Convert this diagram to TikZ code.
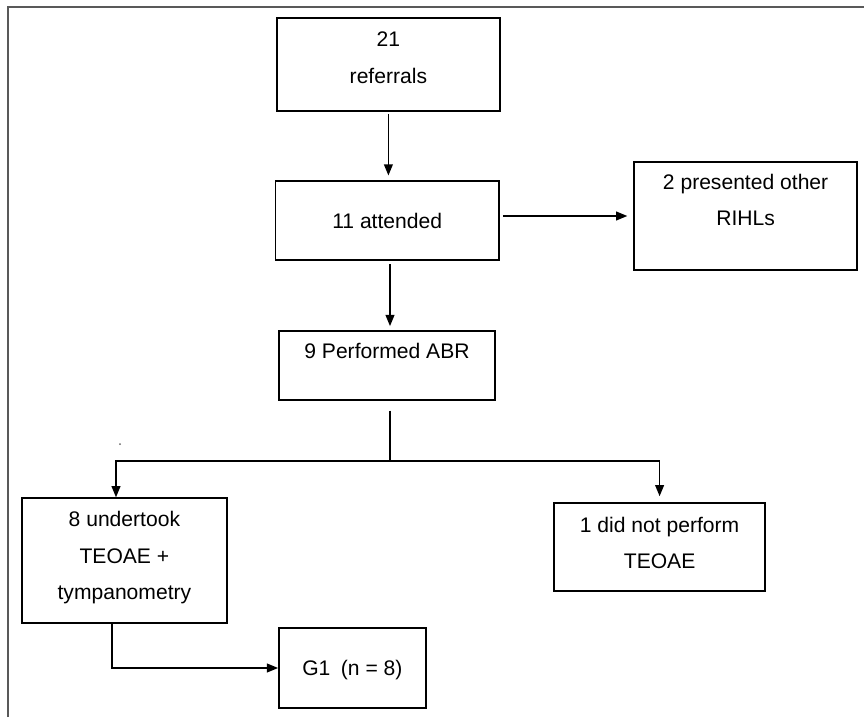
\documentclass[tikz,border=0pt]{standalone}
\usepackage{fontspec}
\setmainfont{Liberation Sans}
\usepackage{tikz}
\usetikzlibrary{arrows.meta}
\tikzset{
	flowbox/.style={draw, line width=1.1pt, align=center, font=\fontsize{15}{26}\selectfont},
	flowline/.style={line width=1.1pt},
	flowarrow/.style={line width=1.1pt, -{Triangle[length=0.28cm, width=0.22cm]}}
}

\begin{document}
\begin{tikzpicture}
		%%%%% START %%%%%
		
		\useasboundingbox (0, 0) rectangle (21.6, 17.925);
		\draw[line width=1pt, color=black!65] (0.2, 0) -- (0.2, 17.75) -- (21.6, 17.75);
		
		\node[flowbox, minimum width=5.575cm, minimum height=2.325cm, text depth=0.35cm] (referrals) at (9.71, 16.31) {21\\referrals};
		\node[flowbox, minimum width=5.59cm, minimum height=1.975cm] (attended) at (9.68, 12.41) {11 attended};
		\node[flowbox, minimum width=5.575cm, minimum height=2.7cm, text depth=0.8cm] (other) at (18.64, 12.525) {2 presented other\\RIHLs};
		\node[flowbox, minimum width=5.4cm, minimum height=1.725cm, text depth=0.75cm] (abr) at (9.675, 8.79) {9 Performed ABR};
		
		\node[flowbox, minimum width=5.125cm, minimum height=3.125cm, text depth=0.26cm] (teoae) at (3.11, 3.91) {8 undertook\\TEOAE +\\tympanometry};
		\node[flowbox, minimum width=5.275cm, minimum height=2.2cm, text depth=0.2cm] (noteoae) at (16.49, 4.25) {1 did not perform\\TEOAE};
		\node[flowbox, minimum width=3.675cm, minimum height=2cm, text depth=0cm] (gone) at (8.81, 1.225) {G1\enspace(n = 8)};
		
		\coordinate (fork) at (9.75, 6.4);
		
		\draw[flowarrow, shorten <=0.05cm, shorten >=0.12cm] (referrals.south) -- (referrals.south |- attended.north);
		\draw[flowarrow, shorten <=0.08cm, shorten >=0.15cm] (other.west -| attended.east) -- (other.west);
		\draw[flowarrow, shorten <=0.08cm, shorten >=0.1cm] (attended.south -| fork) -- (abr.north -| fork);
		
		\draw[flowline, shorten <=0.25cm] (abr.south -| fork) -- (fork);
		\draw[flowarrow] (fork) -| ([xshift=-0.21cm]teoae.north);
		\draw[flowarrow, shorten >=0.15cm] (fork) -| (noteoae.north);
		\draw[flowarrow] ([xshift=-0.31cm]teoae.south) |- (gone.west);
		
		\fill[color=black!60] (3.0, 6.82) circle (0.025);
		
		%%%%% END %%%%%
\end{tikzpicture}
\end{document}
